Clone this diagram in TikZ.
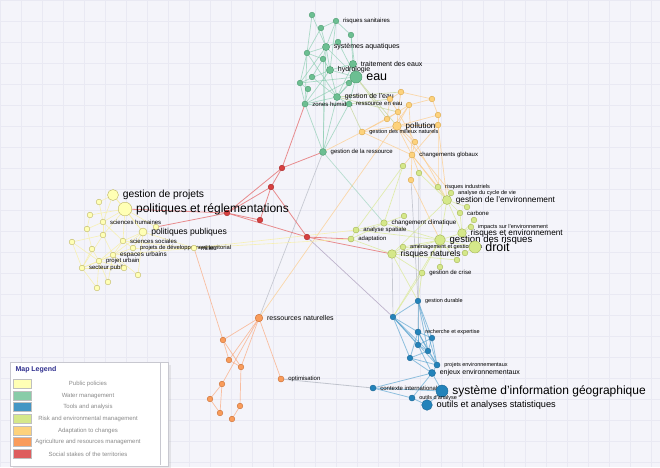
\documentclass[tikz,border=0pt]{standalone}
\usepackage{fontspec}
\setmainfont{Liberation Sans}
\usepackage{tikz-network}
\SetDefaultUnit{pt}
\newcommand{\fs}[1]{\fontsize{#1}{#1}\selectfont}
\definecolor{waterF}{HTML}{6CBF92}\definecolor{waterD}{HTML}{4A9A6E}\definecolor{waterE}{HTML}{7CC8A6}
\definecolor{adaptF}{HTML}{FDD27C}\definecolor{adaptD}{HTML}{D9A544}\definecolor{adaptE}{HTML}{FDCB86}
\definecolor{riskF}{HTML}{D5E88A}\definecolor{riskD}{HTML}{A3B452}\definecolor{riskE}{HTML}{DCEA9C}
\definecolor{publicF}{HTML}{FFFFB5}\definecolor{publicD}{HTML}{BDB563}\definecolor{publicE}{HTML}{F8F0A0}
\definecolor{toolsF}{HTML}{2383BA}\definecolor{toolsD}{HTML}{1B6593}\definecolor{toolsE}{HTML}{4A9CCB}
\definecolor{agriF}{HTML}{F99C5B}\definecolor{agriD}{HTML}{C86B30}\definecolor{agriE}{HTML}{FBA77A}
\definecolor{socialF}{HTML}{D84040}\definecolor{socialD}{HTML}{A52626}\definecolor{socialE}{HTML}{E46060}
\definecolor{mixE}{HTML}{C8D8A0}\definecolor{greyE}{HTML}{B4B8C2}\definecolor{purpE}{HTML}{A898B8}
\definecolor{bgC}{HTML}{F4F4FA}\definecolor{gridC}{HTML}{E9E9F3}
\definecolor{legT}{HTML}{2E2E8E}\definecolor{legX}{HTML}{8A8A8A}\definecolor{legB}{HTML}{C8C8D0}
\newcommand{\VertexW}[2][]{\Vertex[fontsize=\fs{6}, position=right, distance=0.8, #1, color=waterF, style={draw=waterD, line width=0.4pt}]{#2}}
\newcommand{\VertexA}[2][]{\Vertex[fontsize=\fs{6}, position=right, distance=0.8, #1, color=adaptF, style={draw=adaptD, line width=0.4pt}]{#2}}
\newcommand{\VertexR}[2][]{\Vertex[fontsize=\fs{6}, position=right, distance=0.8, #1, color=riskF, style={draw=riskD, line width=0.4pt}]{#2}}
\newcommand{\VertexP}[2][]{\Vertex[fontsize=\fs{6}, position=right, distance=0.8, #1, color=publicF, style={draw=publicD, line width=0.4pt}]{#2}}
\newcommand{\VertexT}[2][]{\Vertex[fontsize=\fs{5.5}, position=right, distance=0.8, #1, color=toolsF, style={draw=toolsD, line width=0.4pt}]{#2}}
\newcommand{\VertexG}[2][]{\Vertex[fontsize=\fs{6}, position=right, distance=0.8, #1, color=agriF, style={draw=agriD, line width=0.4pt}]{#2}}
\newcommand{\VertexS}[2][]{\Vertex[fontsize=\fs{6}, position=right, distance=0.8, #1, color=socialF, style={draw=socialD, line width=0.4pt}]{#2}}
\newcommand{\EdgeW}[2]{\Edge[color=waterE, opacity=0.6, lw=0.7](#1)(#2)}
\newcommand{\EdgeA}[2]{\Edge[color=adaptE, opacity=0.7, lw=0.7](#1)(#2)}
\newcommand{\EdgeR}[2]{\Edge[color=riskE, opacity=0.8, lw=0.7](#1)(#2)}
\newcommand{\EdgeP}[2]{\Edge[color=publicE, opacity=0.8, lw=0.6](#1)(#2)}
\newcommand{\EdgeT}[2]{\Edge[color=toolsE, opacity=0.6, lw=0.8](#1)(#2)}
\newcommand{\EdgeG}[2]{\Edge[color=agriE, opacity=0.7, lw=0.7](#1)(#2)}
\newcommand{\EdgeS}[2]{\Edge[color=socialE, opacity=0.7, lw=0.8](#1)(#2)}
\usetikzlibrary{shadows}

\begin{document}
\begin{tikzpicture}[x=1pt, y=1pt]
\useasboundingbox (0,0) rectangle (660,-467);
\begin{pgfonlayer}{background}
\fill[bgC] (0,0) rectangle (660,-467);
\draw[gridC, line width=0.4pt, step=21] (0,0) grid (660,-467);
\end{pgfonlayer}

% water management
\VertexW[x=312, y=-15, size=2.4]{w1}
\VertexW[x=336, y=-21, size=5.4, label=risques sanitaires]{wRS}
\VertexW[x=321, y=-28, size=4.4]{w2}
\VertexW[x=351, y=-35, size=4.4]{w3}
\VertexW[x=338, y=-42, size=3.6]{w4}
\VertexW[x=326, y=-47, size=7.2, label=systèmes aquatiques, fontsize=\fs{7}]{wSA}
\VertexW[x=307, y=-53, size=4.8]{w5}
\VertexW[x=323, y=-59, size=4.8]{w6}
\VertexW[x=353, y=-64, size=7.2, label=traitement des eaux, fontsize=\fs{7}]{wTE}
\VertexW[x=330, y=-70, size=7.2, label=hydrologie, fontsize=\fs{7}]{wHY}
\VertexW[x=356, y=-77, size=12, label=eau, fontsize=\fs{12.5}]{wEAU}
\VertexW[x=300, y=-83, size=4.8]{w7}
\VertexW[x=312, y=-77, size=3]{w8}
\VertexW[x=349, y=-83, size=4.8]{w9}
\VertexW[x=308, y=-89, size=3.6]{w10}
\VertexW[x=337, y=-97, size=7, label=gestion de l'eau, fontsize=\fs{7}]{wGE}
\VertexW[x=305, y=-104, size=6, label=zones humides]{wZH}
\VertexW[x=349, y=-104, size=5.6, label=ressource en eau]{wRE}
\VertexW[x=323, y=-152, size=6.8, label=gestion de la ressource]{wGR}

% adaptation to changes
\VertexA[x=401, y=-92, size=4]{a1}
\VertexA[x=432, y=-99, size=4]{a2}
\VertexA[x=390, y=-99, size=3.6]{a3}
\VertexA[x=409, y=-105, size=3]{a4}
\VertexA[x=398, y=-112, size=4]{a5}
\VertexA[x=438, y=-115, size=4]{a6}
\VertexA[x=387, y=-119, size=3.6]{a7}
\VertexA[x=397, y=-126, size=8.6, label=pollution, fontsize=\fs{8}]{aPO}
\VertexA[x=438, y=-125, size=5]{a8}
\VertexA[x=362, y=-132, size=6, label=gestion des milieux naturels, fontsize=\fs{5.6}]{aGM}
\VertexA[x=415, y=-142, size=4]{a9}
\VertexA[x=412, y=-155, size=6, label=changements globaux]{aCG}
\VertexA[x=411, y=-180, size=4]{a10}

% risk and environmental management
\VertexR[x=403, y=-166, size=3.2]{r1}
\VertexR[x=419, y=-173, size=3.2]{r2}
\VertexR[x=438, y=-187, size=5.2, label=risques industriels, fontsize=\fs{5.6}]{rRI}
\VertexR[x=451, y=-193, size=5.2, label=analyse du cycle de vie, fontsize=\fs{5.6}]{rAC}
\VertexR[x=447, y=-200, size=9, label=gestion de l'environnement, fontsize=\fs{8.3}]{rGE}
\VertexR[x=467, y=-207, size=4.6]{r3}
\VertexR[x=460, y=-213, size=5, label=carbone]{rCA}
\VertexR[x=474, y=-220, size=4.4]{r4}
\VertexR[x=471, y=-227, size=4.6, label=impacts sur l'environnement, fontsize=\fs{5.6}]{rIE}
\VertexR[x=462, y=-233, size=8.6, label=risques et environnement, fontsize=\fs{8.2}]{rRE}
\VertexR[x=384, y=-223, size=6.4, label=changement climatique, fontsize=\fs{6.3}]{rCC}
\VertexR[x=404, y=-216, size=3]{r8}
\VertexR[x=356, y=-230, size=6, label=analyse spatiale]{rAS}
\VertexR[x=351, y=-239, size=6, label=adaptation]{rAD}
\VertexR[x=403, y=-247, size=5.2, label=aménagement et gestion des, fontsize=\fs{5.6}]{rAM}
\VertexR[x=392, y=-254, size=8.6, label=risques naturels, fontsize=\fs{8.5}]{rRN}
\VertexR[x=440, y=-240, size=10.6, label=gestion des risques, fontsize=\fs{9.6}]{rGR}
\VertexR[x=475, y=-247, size=12, label=droit, fontsize=\fs{12.5}]{rDR}
\VertexR[x=465, y=-253, size=4.6]{r5}
\VertexR[x=457, y=-260, size=4]{r6}
\VertexR[x=440, y=-267, size=2.6]{r7}
\VertexR[x=422, y=-273, size=6, label=gestion de crise]{rGC}

% tools and analysis
\VertexT[x=418, y=-301, size=5.6, label=gestion durable]{tGD}
\VertexT[x=393, y=-317, size=3.6]{t1}
\VertexT[x=418, y=-332, size=6, label=recherche et expertise]{tRE}
\VertexT[x=432, y=-338, size=3.6]{t2}
\VertexT[x=418, y=-345, size=3.6]{t3}
\VertexT[x=428, y=-351, size=3.6]{t4}
\VertexT[x=410, y=-358, size=4.6]{t5}
\VertexT[x=437, y=-365, size=6, label=projets environnementaux]{tPE}
\VertexT[x=432, y=-373, size=7, label=enjeux environnementaux, fontsize=\fs{7}]{tEE}
\VertexT[x=373, y=-388, size=6, label=contexte international, fontsize=\fs{6}]{tCI}
\VertexT[x=442, y=-391, size=12, label=système d'information géographique, fontsize=\fs{12}]{tSIG}
\VertexT[x=412, y=-398, size=6, label=outils d'analyse]{tOA}
\VertexT[x=427, y=-405, size=10.6, label=outils et analyses statistiques, fontsize=\fs{9.2}]{tOS}

% agriculture and resources management
\VertexG[x=259, y=-318, size=7.6, label=ressources naturelles, fontsize=\fs{7}]{gRN}
\VertexG[x=223, y=-340, size=4]{g1}
\VertexG[x=229, y=-360, size=3.6]{g2}
\VertexG[x=241, y=-367, size=4]{g3}
\VertexG[x=222, y=-384, size=5.2]{g4}
\VertexG[x=281, y=-379, size=6, label=optimisation]{gOP}
\VertexG[x=210, y=-399, size=4]{g5}
\VertexG[x=240, y=-406, size=3.6]{g6}
\VertexG[x=220, y=-413, size=2.4]{g7}
\VertexG[x=232, y=-419, size=3.6]{g8}

% social stakes of the territories
\VertexS[x=282, y=-168, size=4]{s1}
\VertexS[x=271, y=-187, size=4]{s2}
\VertexS[x=227, y=-213, size=4]{s3}
\VertexS[x=260, y=-220, size=3.4]{s4}
\VertexS[x=307, y=-237, size=4.6]{s5}

% public policies
\VertexP[x=113, y=-195, size=11, label=gestion de projets, fontsize=\fs{10.3}]{pGP}
\VertexP[x=125, y=-209, size=13.6, label=politiques et réglementations, fontsize=\fs{12}]{pPR}
\VertexP[x=99, y=-202, size=3.2]{p1}
\VertexP[x=90, y=-215, size=4]{p2}
\VertexP[x=103, y=-222, size=5.6, label=sciences humaines]{pSH}
\VertexP[x=87, y=-229, size=3.6]{p3}
\VertexP[x=156, y=-227, size=2.4]{p4}
\VertexP[x=143, y=-232, size=8, label=politiques publiques, fontsize=\fs{8.6}]{pPP}
\VertexP[x=103, y=-235, size=5]{p5}
\VertexP[x=123, y=-241, size=5.2, label=sciences sociales]{pSS}
\VertexP[x=72, y=-242, size=3]{p6}
\VertexP[x=92, y=-249, size=3.6]{p7}
\VertexP[x=133, y=-248, size=5.2, label=projets de développement territorial, fontsize=\fs{5.8}]{pPD}
\VertexP[x=194, y=-248, size=5.6, label=milieu]{pMI}
\VertexP[x=113, y=-255, size=5.6, label=espaces urbains, fontsize=\fs{6.4}]{pEU}
\VertexP[x=99, y=-261, size=5.6, label=projet urbain]{pPU}
\VertexP[x=82, y=-268, size=5.6, label=secteur public]{pSP}
\VertexP[x=124, y=-268, size=2.8]{p8}
\VertexP[x=138, y=-275, size=4]{p9}
\VertexP[x=108, y=-282, size=3.2]{p10}
\VertexP[x=97, y=-288, size=2.8]{p11}

\EdgeW{w1}{wSA}\EdgeW{w1}{w5}\EdgeW{wRS}{w2}\EdgeW{wRS}{wSA}\EdgeW{wRS}{w3}\EdgeW{wRS}{wHY}
\EdgeW{w2}{wSA}\EdgeW{w2}{w5}\EdgeW{w3}{wTE}\EdgeW{w3}{wEAU}\EdgeW{w4}{wSA}\EdgeW{w4}{wEAU}
\EdgeW{wSA}{w5}\EdgeW{wSA}{w6}\EdgeW{wSA}{wHY}\EdgeW{wSA}{wEAU}\EdgeW{wSA}{w7}\EdgeW{w5}{w6}
\EdgeW{w5}{w7}\EdgeW{w5}{wZH}\EdgeW{w6}{wHY}\EdgeW{w6}{w8}\EdgeW{wTE}{wEAU}\EdgeW{wTE}{wHY}
\EdgeW{wTE}{wGE}\EdgeW{wHY}{wEAU}\EdgeW{wHY}{wGE}\EdgeW{wHY}{w7}\EdgeW{wHY}{wZH}\EdgeW{wEAU}{wGE}
\EdgeW{wEAU}{wRE}\EdgeW{wEAU}{w9}\EdgeW{wEAU}{wZH}\EdgeW{w7}{w10}\EdgeW{w7}{wZH}\EdgeW{w8}{wGE}
\EdgeW{w9}{wGE}\EdgeW{w10}{wZH}\EdgeW{wGE}{wZH}\EdgeW{wGE}{wRE}\EdgeW{wZH}{wRE}\EdgeW{wZH}{wGR}
\EdgeW{wRE}{wGR}\EdgeW{wGE}{wGR}\EdgeW{wSA}{wGR}\EdgeW{w6}{wGR}\EdgeW{w5}{wGE}\EdgeW{wEAU}{w7}

\EdgeA{a1}{a3}\EdgeA{a1}{a5}\EdgeA{a1}{a2}\EdgeA{a2}{a4}\EdgeA{a2}{a6}\EdgeA{a3}{a5}\EdgeA{a3}{a7}
\EdgeA{a4}{a5}\EdgeA{a4}{aPO}\EdgeA{a5}{aPO}\EdgeA{a5}{a7}\EdgeA{a5}{aGM}\EdgeA{a6}{aPO}\EdgeA{a6}{a8}
\EdgeA{a7}{aGM}\EdgeA{aPO}{a8}\EdgeA{aPO}{aGM}\EdgeA{aPO}{a9}\EdgeA{aPO}{aCG}\EdgeA{a9}{aCG}
\EdgeA{a8}{aCG}\EdgeA{aCG}{a10}\EdgeA{a4}{aCG}\EdgeA{aGM}{aCG}\EdgeA{a5}{a9}
\EdgeA{aCG}{rRI}\EdgeA{aCG}{rGE}\EdgeA{a9}{rGE}\EdgeA{a8}{rRI}\EdgeA{a8}{rGE}\EdgeA{a10}{rGR}
\EdgeA{aPO}{rAC}\EdgeA{r1}{aCG}\EdgeA{r2}{aCG}\EdgeA{wGR}{aGM}\EdgeA{a4}{gRN}
\Edge[color=mixE, opacity=0.8, lw=0.7](wGE)(a1)
\Edge[color=mixE, opacity=0.8, lw=0.7](wEAU)(aPO)
\Edge[color=mixE, opacity=0.8, lw=0.7](wRE)(a3)
\Edge[color=mixE, opacity=0.8, lw=0.7](wRE)(aGM)
\Edge[color=mixE, opacity=0.8, lw=0.7](wGE)(a5)
\Edge[color=mixE, opacity=0.8, lw=0.7](wEAU)(a7)
\Edge[color=waterE, opacity=0.5, lw=0.7](wGR)(rCC)
\Edge[color=greyE, opacity=0.7, lw=0.7](wGR)(gRN)

\EdgeR{r1}{rAS}\EdgeR{r1}{rCC}\EdgeR{rRI}{rGE}\EdgeR{rAC}{rGE}\EdgeR{rGE}{r3}\EdgeR{rGE}{rCA}
\EdgeR{rGE}{rRE}\EdgeR{rGE}{rGR}\EdgeR{rCA}{rRE}\EdgeR{r4}{rRE}\EdgeR{rIE}{rRE}\EdgeR{rRE}{rGR}
\EdgeR{rRE}{rDR}\EdgeR{rGR}{rDR}\EdgeR{rDR}{r5}\EdgeR{rGR}{r6}\EdgeR{rGR}{rAM}\EdgeR{rGR}{rRN}
\EdgeR{rGR}{rCC}\EdgeR{rCC}{rAS}\EdgeR{rCC}{rAD}\EdgeR{rAS}{rAD}\EdgeR{rRN}{rAM}\EdgeR{rRN}{rGC}
\EdgeR{rGR}{rGC}\EdgeR{rDR}{rAM}\EdgeR{r8}{rCC}\EdgeR{rGE}{rRN}\EdgeR{rAS}{rGR}\EdgeR{rAD}{rRN}
\EdgeR{r2}{rGE}\EdgeR{r6}{rRN}\EdgeR{r7}{rGR}
\EdgeR{tGD}{rRN}\EdgeR{tGD}{rGC}\EdgeR{t1}{rGC}\EdgeR{t1}{rGR}

\EdgeT{tGD}{tRE}\EdgeT{tGD}{t2}\EdgeT{tGD}{t3}\EdgeT{tGD}{t4}\EdgeT{tGD}{tPE}\EdgeT{tGD}{t1}
\EdgeT{t1}{tRE}\EdgeT{t1}{t5}\EdgeT{t1}{t3}\EdgeT{t1}{t4}\EdgeT{t1}{tPE}\EdgeT{tRE}{t2}
\EdgeT{tRE}{t3}\EdgeT{tRE}{t4}\EdgeT{tRE}{t5}\EdgeT{tRE}{tPE}\EdgeT{t2}{t4}\EdgeT{t2}{t3}
\EdgeT{t2}{tPE}\EdgeT{t3}{t4}\EdgeT{t3}{tEE}\EdgeT{t4}{tPE}\EdgeT{t5}{tEE}\EdgeT{t5}{tPE}
\EdgeT{t5}{t4}\EdgeT{tPE}{tEE}\EdgeT{tEE}{tSIG}\EdgeT{tEE}{tOA}\EdgeT{tCI}{tSIG}\EdgeT{tCI}{tOA}
\EdgeT{tOA}{tOS}\EdgeT{tSIG}{tOS}\EdgeT{tCI}{tEE}
\Edge[color=greyE, opacity=0.7, lw=0.7](a10)(tGD)
\Edge[color=greyE, opacity=0.7, lw=0.7](r2)(tRE)
\Edge[color=greyE, opacity=0.7, lw=0.7](rRN)(t1)
\Edge[color=purpE, opacity=0.7, lw=0.7](s5)(t1)
\Edge[color=greyE, opacity=0.8, lw=0.8](gOP)(tCI)

\EdgeG{gRN}{g1}\EdgeG{gRN}{g2}\EdgeG{gRN}{g3}\EdgeG{gRN}{g4}\EdgeG{gRN}{gOP}\EdgeG{g1}{g2}
\EdgeG{g1}{g3}\EdgeG{g2}{g3}\EdgeG{g4}{g5}\EdgeG{g4}{g7}\EdgeG{g5}{g7}\EdgeG{g3}{g6}\EdgeG{g6}{g8}
\EdgeG{g1}{pMI}

\EdgeS{s1}{s2}\EdgeS{s2}{s3}\EdgeS{s2}{s4}\EdgeS{s2}{s5}\EdgeS{s3}{s5}\EdgeS{s3}{s4}\EdgeS{s1}{s3}
\EdgeS{s3}{pPR}\EdgeS{s3}{p4}\EdgeS{s5}{rAD}\EdgeS{s5}{rRN}\EdgeS{s1}{wZH}\EdgeS{s1}{wGR}

\EdgeP{pGP}{pPR}\EdgeP{pGP}{pSH}\EdgeP{pGP}{pPP}\EdgeP{pPR}{pSH}\EdgeP{pPR}{pPP}\EdgeP{pPR}{pSS}
\EdgeP{pPR}{p2}\EdgeP{pPR}{p5}\EdgeP{pPP}{pSS}\EdgeP{pPP}{pPD}\EdgeP{pPP}{pEU}\EdgeP{pPP}{pMI}
\EdgeP{pSS}{pPD}\EdgeP{pSS}{pEU}\EdgeP{pSS}{pPU}\EdgeP{pSH}{p5}\EdgeP{pSH}{p3}\EdgeP{pSH}{pSS}
\EdgeP{p5}{pEU}\EdgeP{p5}{pSP}\EdgeP{p2}{p3}\EdgeP{p3}{p7}\EdgeP{p6}{pSP}\EdgeP{p6}{p5}
\EdgeP{p7}{pPU}\EdgeP{p7}{pSP}\EdgeP{pPD}{pEU}\EdgeP{pPD}{pMI}\EdgeP{pEU}{pPU}\EdgeP{pEU}{pSP}
\EdgeP{pPU}{pSP}\EdgeP{pPU}{p8}\EdgeP{pSP}{p8}\EdgeP{p8}{pEU}\EdgeP{p9}{pEU}\EdgeP{p9}{pPP}
\EdgeP{p10}{pPU}\EdgeP{p10}{pEU}\EdgeP{p11}{pSP}\EdgeP{p11}{pPU}\EdgeP{p1}{pGP}\EdgeP{p1}{pSH}
\EdgeP{p4}{pPR}\EdgeP{pMI}{pSS}\EdgeP{pMI}{pEU}\EdgeP{p6}{pPU}
\EdgeP{pMI}{rAD}\EdgeP{pMI}{rAS}

% legend
\node[draw=legB, fill=white, drop shadow={opacity=0.15}, anchor=north west, minimum width=158, minimum height=104, inner sep=0] (legend) at (10,-362) {};
\draw[legB] (160,-363) -- (160,-465);
\node[anchor=west, font=\fs{7}\bfseries, text=legT] (legtitle) at (12,-370) {Map Legend};
\tikzset{swatch/.style={draw=black!25, line width=0.3pt, minimum width=18, minimum height=9, inner sep=0}, legtext/.style={font=\fs{6}, text=legX}}
\node[swatch, fill=publicF] (sw1) at (22,-384) {};
\node[legtext] (lt1) at (88,-384) {Public policies};
\node[swatch, fill=waterF!80] (sw2) at (22,-396) {};
\node[legtext] (lt2) at (88,-396) {Water management};
\node[swatch, fill=toolsF!85] (sw3) at (22,-407) {};
\node[legtext] (lt3) at (88,-407) {Tools and analysis};
\node[swatch, fill=riskF] (sw4) at (22,-419) {};
\node[legtext] (lt4) at (88,-419) {Risk and environmental management};
\node[swatch, fill=adaptF] (sw5) at (22,-431) {};
\node[legtext] (lt5) at (88,-431) {Adaptation to changes};
\node[swatch, fill=agriF] (sw6) at (22,-442) {};
\node[legtext] (lt6) at (88,-442) {Agriculture and resources management};
\node[swatch, fill=socialF!85] (sw7) at (22,-454) {};
\node[legtext] (lt7) at (88,-454) {Social stakes of the territories};
\end{tikzpicture}
\end{document}
